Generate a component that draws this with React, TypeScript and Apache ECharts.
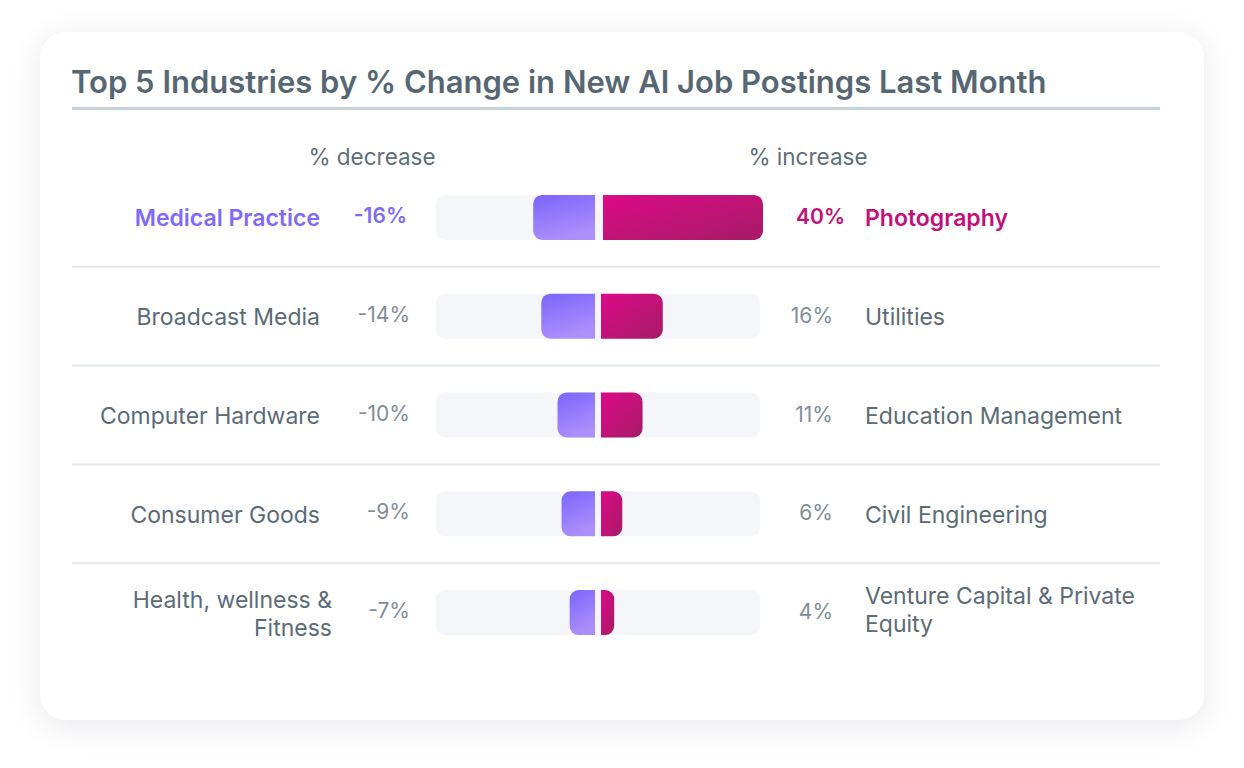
import React, { useEffect, useRef } from "react";
import * as echarts from "echarts";

const titleText = "Top 5 Industries by % Change in New AI Job Postings Last Month";
const decreaseHeader = "% decrease";
const increaseHeader = "% increase";
const leftIndustries = [
  "Medical Practice",
  "Broadcast Media",
  "Computer Hardware",
  "Consumer Goods",
  "Health, wellness &\nFitness",
];
const decreaseValues = [-16, -14, -10, -9, -7];
const rightIndustries = [
  "Photography",
  "Utilities",
  "Education Management",
  "Civil Engineering",
  "Venture Capital & Private\nEquity",
];
const increaseValues = [40, 16, 11, 6, 4];
const axisMin = -40;
const axisMax = 40;

const FONT = "Inter, 'Noto Sans', sans-serif";
const PURPLE = "#7f6afb";
const MAGENTA = "#c4107a";
const LABEL = "#5b6b77";
const VALUE = "#7f8d98";

export default function App() {
  const ref = useRef<HTMLDivElement>(null);
  useEffect(() => {
    if (!ref.current) return;
    const chart = echarts.init(ref.current, undefined, { renderer: "svg" });
    const data = leftIndustries.map((_, i) => [i, decreaseValues[i], increaseValues[i]]);
    const n = leftIndustries.length;
    const option: any = {
      animation: false,
      graphic: [
        {
          type: "text",
          style: { text: titleText, x: 71, y: 81, align: "left", verticalAlign: "middle", fill: "#566773", font: `600 31px ${FONT}` },
        },
        { type: "rect", shape: { x: 72, y: 107, width: 1088, height: 3 }, style: { fill: "#c6d3dc" } },
        {
          type: "text",
          style: { text: decreaseHeader, x: 372, y: 156, align: "center", verticalAlign: "middle", fill: "#5e6e7a", font: `400 22.5px ${FONT}` },
        },
        {
          type: "text",
          style: { text: increaseHeader, x: 808, y: 156, align: "center", verticalAlign: "middle", fill: "#5e6e7a", font: `400 22.5px ${FONT}` },
        },
      ],
      grid: { left: 436, right: 484, top: 168, height: 494 },
      xAxis: { type: "value", min: axisMin, max: axisMax, show: false },
      yAxis: { type: "category", data: leftIndustries, inverse: true, show: false },
      series: [
        {
          type: "custom",
          clip: false,
          encode: { x: [1, 2], y: 0 },
          data,
          renderItem: (params: any, api: any) => {
            const i = api.value(0);
            const neg = api.value(1);
            const pos = api.value(2);
            const c = api.coord([0, i]);
            const cx = c[0];
            const cy = c[1];
            const band = api.size([0, 1])[1];
            const h = 45;
            const xMin = api.coord([axisMin, i])[0];
            const xMax = api.coord([axisMax, i])[0];
            const xNeg = api.coord([neg, i])[0];
            const xPos = api.coord([pos, i])[0];
            const top = i === 0;
            const gap = top ? 5 : 3;
            const children: any[] = [];
            children.push({
              type: "rect",
              shape: { x: xMin, y: cy - h / 2, width: xMax - xMin, height: h, r: 9 },
              style: { fill: "#f5f6fa" },
            });
            children.push({
              type: "rect",
              shape: { x: xNeg, y: cy - h / 2, width: cx - 3 - xNeg, height: h, r: [9, 0, 0, 9] },
              style: {
                fill: new echarts.graphic.LinearGradient(0, 0, 0.35, 1, [
                  { offset: 0, color: "#7a64fc" },
                  { offset: 1, color: "#ac8ffb" },
                ]),
              },
            });
            children.push({
              type: "rect",
              shape: { x: cx + gap, y: cy - h / 2, width: xPos - cx - gap + (top ? 3 : 0), height: h, r: [0, 9, 9, 0] },
              style: {
                fill: new echarts.graphic.LinearGradient(0, 0, 1, 1, [
                  { offset: 0, color: "#dc0a88" },
                  { offset: 1, color: "#a61b66" },
                ]),
              },
            });
            if (i < n - 1) {
              children.push({
                type: "rect",
                shape: { x: 72, y: cy + band / 2 - 1, width: 1088, height: 2 },
                style: { fill: "#e4e9ed" },
              });
            }
            const leftLabel = leftIndustries[i];
            const multi = leftLabel.indexOf("\n") >= 0;
            children.push({
              type: "text",
              style: {
                text: leftLabel,
                x: multi ? 332 : 320,
                y: cy + 1,
                align: "right",
                verticalAlign: "middle",
                lineHeight: 28,
                fill: top ? PURPLE : LABEL,
                font: `${top ? 600 : 400} 23px ${FONT}`,
              },
            });
            children.push({
              type: "text",
              style: {
                text: `${neg}%`,
                x: top ? 407 : 410,
                y: cy - 2,
                align: "right",
                verticalAlign: "middle",
                fill: top ? PURPLE : VALUE,
                font: `${top ? 600 : 400} 21px ${FONT}`,
              },
            });
            children.push({
              type: "text",
              style: {
                text: `${pos}%`,
                x: top ? 845 : 833,
                y: cy - 1,
                align: "right",
                verticalAlign: "middle",
                fill: top ? MAGENTA : VALUE,
                font: `${top ? 600 : 400} 21px ${FONT}`,
              },
            });
            children.push({
              type: "text",
              style: {
                text: rightIndustries[i],
                x: 865,
                y: multi ? cy - 3 : cy + 1,
                align: "left",
                verticalAlign: "middle",
                lineHeight: 28,
                fill: top ? MAGENTA : LABEL,
                font: `${top ? 600 : 400} 23px ${FONT}`,
              },
            });
            return { type: "group", children };
          },
        },
      ],
    };
    chart.setOption(option);
    return () => chart.dispose();
  }, []);
  return (
    <div style={{ position: "fixed", left: 0, top: 0, width: 1244, height: 768, background: "#ffffff" }}>
      <div
        style={{
          position: "absolute",
          left: 40,
          top: 32,
          width: 1164,
          height: 688,
          borderRadius: 26,
          background: "#ffffff",
          boxShadow: "0 6px 32px rgba(40,50,70,0.11)",
        }}
      />
      <div ref={ref} style={{ position: "absolute", left: 0, top: 0, width: 1244, height: 768 }} />
    </div>
  );
}
